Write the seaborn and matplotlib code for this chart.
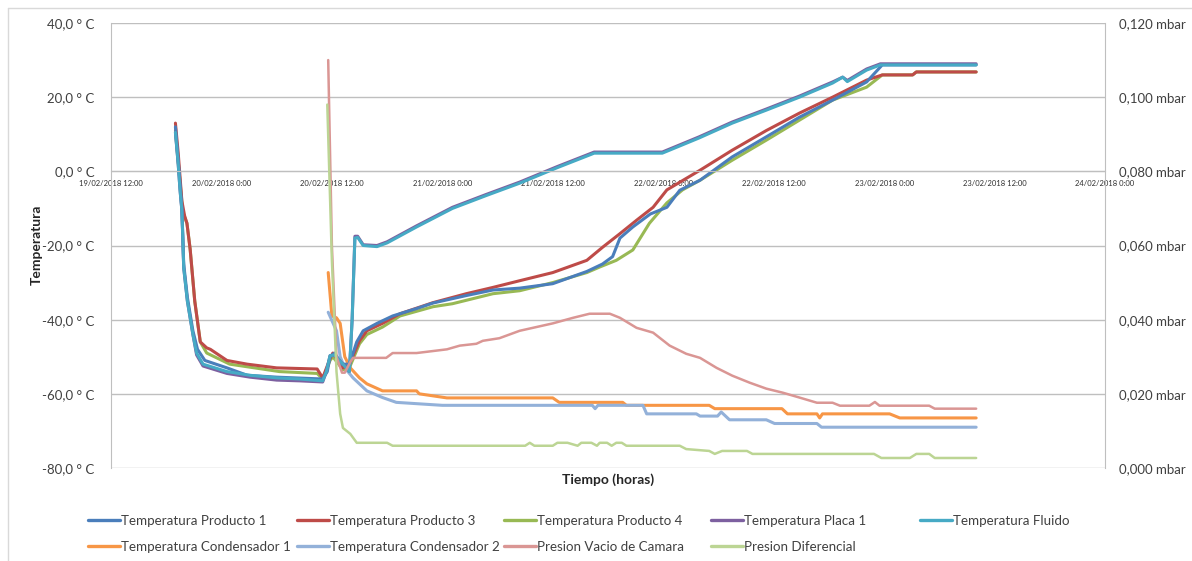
import pandas as pd
import matplotlib
matplotlib.use("Agg")
import matplotlib.pyplot as plt
import matplotlib.dates as mdates
from matplotlib.lines import Line2D
from matplotlib.ticker import FuncFormatter, MultipleLocator
import seaborn as sns

START = pd.Timestamp("2018-02-19 12:00")
END = pd.Timestamp("2018-02-24 00:00")

# horas desde 19/02/2018 12:00 -> temperatura (°C)
p1_h = [7.0, 7.4, 7.7, 7.9, 8.3, 8.9, 9.4, 10.2, 12.6, 14.8, 18.0, 23.0, 23.5, 23.8, 24.3, 25.0, 25.9, 26.7, 27.4, 28.9,
        30.6, 33.2, 35.0, 38.6, 41.5, 44.4, 48.0, 51.7, 53.4, 54.5, 55.3, 56.7, 58.6, 60.4, 61.8, 64.0, 67.5, 71.2, 74.8, 78.4,
        82.1, 83.8, 94.0]
p1_t = [12.0, 0.0, -10.0, -25.0, -34.0, -43.0, -48.0, -51.0, -53.0, -55.0, -55.5, -56.0, -54.0, -50.0, -49.0, -52.0, -52.0, -46.0, -43.0, -41.0,
        -39.0, -37.0, -35.5, -33.5, -32.0, -31.5, -30.3, -27.0, -25.0, -23.0, -18.0, -15.0, -11.5, -9.7, -5.1, -2.4, 3.9, 9.3, 14.6, 19.2,
        24.1, 28.7, 28.7]

p3_h = [7.0, 7.3, 7.7, 8.0, 8.25, 8.6, 9.1, 9.7, 10.4, 10.8, 12.6, 14.8, 18.0, 22.4, 23.0, 23.8, 24.1, 25.2, 25.9, 27.0,
        27.8, 29.5, 31.4, 35.0, 38.6, 41.5, 44.4, 48.0, 51.7, 53.4, 55.3, 57.1, 58.9, 60.4, 64.0, 67.5, 71.2, 74.8, 78.4, 82.1,
        83.8, 87.1, 87.5, 94.0]
p3_t = [13.0, 5.0, -8.0, -12.0, -14.0, -21.0, -35.0, -46.0, -47.6, -48.0, -51.0, -52.0, -53.0, -53.3, -55.7, -50.5, -49.0, -53.0, -52.0, -45.7,
        -43.0, -41.0, -38.4, -35.4, -33.0, -31.3, -29.5, -27.3, -24.0, -20.5, -16.8, -13.2, -9.7, -5.0, 0.3, 5.7, 11.0, 15.7, 20.0, 24.6,
        26.0, 26.0, 26.8, 26.8]

p4_h = [7.0, 7.4, 7.8, 8.25, 8.6, 9.1, 9.7, 10.4, 12.9, 18.3, 22.4, 23.0, 23.8, 24.1, 25.2, 25.9, 27.0, 27.8, 29.5, 31.4,
        35.0, 37.1, 41.5, 44.4, 48.0, 51.7, 53.1, 54.9, 56.7, 58.5, 60.4, 62.1, 64.0, 67.5, 71.2, 74.8, 78.4, 82.1, 83.8, 87.1,
        87.5, 94.0]
p4_t = [11.0, 0.0, -11.0, -14.0, -21.0, -35.0, -46.0, -49.0, -52.0, -54.0, -54.5, -56.0, -51.0, -50.0, -53.5, -53.0, -46.5, -44.0, -42.0, -39.0,
        -36.5, -35.7, -33.0, -32.2, -30.0, -27.3, -25.8, -24.0, -21.2, -14.0, -8.5, -5.0, -2.4, 3.0, 8.4, 13.8, 19.2, 22.7, 26.0, 26.0,
        26.8, 26.8]

fl_h = [7.0, 7.3, 7.5, 7.7, 7.8, 7.9, 8.3, 8.9, 9.3, 10.0, 12.6, 15.1, 18.0, 20.5, 23.0, 23.4, 23.8, 24.3, 25.2, 25.9,
        26.2, 26.5, 26.8, 27.4, 28.9, 30.0, 33.2, 37.1, 40.8, 44.4, 48.5, 52.5, 59.9, 63.9, 67.5, 71.2, 74.8, 78.4, 79.5, 80.0,
        82.1, 83.6, 94.0]
fl_t = [10.5, 2.0, -5.0, -10.5, -18.0, -26.0, -35.0, -44.0, -49.0, -52.0, -54.0, -55.0, -55.7, -56.0, -56.5, -54.0, -49.7, -49.5, -52.0, -54.0,
        -40.0, -18.0, -17.8, -20.0, -20.3, -19.3, -15.0, -10.0, -6.5, -3.2, 1.0, 4.9, 4.9, 9.0, 13.0, 16.5, 20.0, 23.8, 25.4, 24.2,
        27.3, 28.7, 28.7]

pl_h = fl_h
pl_t = [10.5, 2.0, -5.0, -10.5, -18.0, -26.0, -35.0, -44.0, -49.5, -52.5, -54.5, -55.5, -56.3, -56.5, -56.8, -54.0, -49.7, -49.5, -52.0, -54.0,
        -40.0, -17.5, -17.5, -19.8, -20.0, -19.0, -14.7, -9.7, -6.2, -2.9, 1.3, 5.2, 5.2, 9.3, 13.3, 16.8, 20.3, 24.1, 25.4, 24.5,
        27.6, 29.0, 29.0]

c1_h = [23.6, 24.0, 24.5, 24.9, 25.4, 26.0, 27.0, 27.8, 29.5, 33.2, 33.5, 36.5, 48.0, 48.7, 55.6, 56.0, 65.0, 65.6, 72.9, 73.5,
        76.7, 77.0, 77.3, 84.6, 85.7, 94.0]
c1_t = [-27.3, -39.0, -39.5, -41.0, -50.0, -53.0, -55.7, -57.3, -59.2, -59.2, -60.0, -61.1, -61.1, -62.3, -62.3, -63.1, -63.1, -64.0, -64.0, -65.4,
        -65.4, -66.5, -65.4, -65.4, -66.5, -66.5]

c2_h = [23.6, 24.5, 24.9, 25.4, 26.3, 27.8, 29.5, 31.0, 36.0, 52.3, 52.6, 52.9, 57.8, 58.2, 63.6, 64.0, 65.9, 66.3, 67.2, 71.2,
        72.1, 76.7, 77.2, 94.0]
c2_t = [-38.0, -43.0, -50.0, -53.0, -55.7, -59.2, -61.0, -62.3, -63.1, -63.1, -64.0, -63.1, -63.1, -65.4, -65.4, -66.0, -66.0, -64.9, -67.0, -67.0,
        -68.0, -68.0, -69.0, -69.0]

# presiones (mbar), eje derecho
pv_h = [23.6, 24.0, 24.5, 25.1, 25.4, 26.0, 26.3, 29.9, 30.6, 33.2, 36.5, 37.9, 39.7, 40.4, 42.2, 44.4, 48.0, 50.2, 52.0, 54.2,
        55.3, 57.1, 58.9, 60.7, 62.5, 64.0, 65.8, 67.5, 69.4, 71.2, 73.0, 74.8, 76.7, 78.4, 79.2, 82.4, 83.0, 83.5, 88.9, 89.5,
        94.0]
pv_p = [0.110, 0.060, 0.030, 0.0257, 0.0257, 0.0286, 0.0297, 0.0297, 0.031, 0.031, 0.032, 0.033, 0.0335, 0.0343, 0.035, 0.037, 0.039, 0.0405, 0.0416, 0.0416,
        0.0405, 0.0378, 0.0365, 0.033, 0.0308, 0.0297, 0.027, 0.0249, 0.023, 0.0214, 0.0203, 0.019, 0.0176, 0.0176, 0.0168, 0.0168, 0.0178, 0.0168, 0.0168, 0.016,
        0.016]

pd_h = [23.5, 24.0, 24.5, 24.9, 25.2, 26.0, 26.7, 30.0, 30.6, 45.0, 45.5, 46.0, 48.0, 48.5, 49.6, 50.7, 51.1, 52.2, 52.8, 53.1,
        53.9, 54.4, 54.9, 55.5, 56.0, 61.8, 62.5, 65.0, 65.6, 66.4, 69.1, 69.7, 82.9, 83.7, 86.8, 87.5, 88.9, 89.5, 94.0]
pd_p = [0.098, 0.056, 0.026, 0.0146, 0.0108, 0.0092, 0.0068, 0.0068, 0.006, 0.006, 0.0068, 0.006, 0.006, 0.0068, 0.0068, 0.006, 0.0068, 0.0068, 0.006, 0.0068,
        0.0068, 0.006, 0.0068, 0.0068, 0.006, 0.006, 0.0051, 0.0046, 0.0038, 0.0046, 0.0046, 0.0038, 0.0038, 0.0027, 0.0027, 0.0038, 0.0038, 0.0027, 0.0027]

temp_series = [
    ("Temperatura Condensador 1", c1_h, c1_t, "#F79646"),
    ("Temperatura Condensador 2", c2_h, c2_t, "#93B1D9"),
    ("Temperatura Producto 4", p4_h, p4_t, "#98B954"),
    ("Temperatura Producto 3", p3_h, p3_t, "#BE4B48"),
    ("Temperatura Producto 1", p1_h, p1_t, "#4A7EBB"),
    ("Temperatura Placa 1", pl_h, pl_t, "#7D60A0"),
    ("Temperatura Fluido", fl_h, fl_t, "#46AAC5"),
]
press_series = [
    ("Presion Vacio de Camara", pv_h, pv_p, "#DA9694"),
    ("Presion Diferencial", pd_h, pd_p, "#BCD594"),
]

# columnas de la leyenda (como en Excel: columnas de igual ancho)
legend_cols = [
    ["Temperatura Producto 1", "Temperatura Condensador 1"],
    ["Temperatura Producto 3", "Temperatura Condensador 2"],
    ["Temperatura Producto 4", "Presion Vacio de Camara"],
    ["Temperatura Placa 1", "Presion Diferencial"],
    ["Temperatura Fluido"],
]


def to_df(hours, vals):
    return pd.DataFrame({"t": START + pd.to_timedelta(hours, unit="h"), "v": vals})


sns.set_style("white")
plt.rcParams["font.family"] = ["Lato", "DejaVu Sans"]

W, H = 1192, 561
fig = plt.figure(figsize=(W / 100, H / 100), dpi=100)
ax = fig.add_axes([111 / W, 1 - 468 / H, (1105 - 111) / W, (468 - 23) / H])
ax2 = ax.twinx()

colors = {}
for name, h, v, c in temp_series:
    sns.lineplot(data=to_df(h, v), x="t", y="v", ax=ax, color=c, linewidth=2.2, sort=False)
    colors[name] = c
for name, h, v, c in press_series:
    sns.lineplot(data=to_df(h, v), x="t", y="v", ax=ax2, color=c, linewidth=1.8, sort=False)
    colors[name] = c

# eje izquierdo
ax.set_xlim(START, END)
ax.set_ylim(-80, 40)
ax.yaxis.set_major_locator(MultipleLocator(20))
ax.yaxis.set_major_formatter(FuncFormatter(lambda y, p: f"{y:.1f}".replace(".", ",") + " ° C"))
ax.grid(axis="y", color="#BFBFBF", linewidth=1.0)
ax.grid(axis="x", visible=False)
ax.set_xlabel("")
ax.set_ylabel("")
ax.tick_params(axis="y", labelsize=9.5, labelcolor="#404040", length=0, pad=12)

ax.xaxis.set_major_locator(mdates.HourLocator(byhour=[0, 12]))


def fmt_date(x, pos):
    d = mdates.num2date(x)
    return f"{d:%d/%m/%Y} {d.hour}:{d:%M}"


ax.xaxis.set_major_formatter(FuncFormatter(fmt_date))
ax.tick_params(axis="x", labelsize=5.5, labelcolor="#303030", direction="in",
               length=4, color="#BFBFBF", pad=6)
ax.spines["bottom"].set_position(("data", 0))
ax.spines["bottom"].set_color("#BFBFBF")
ax.spines["left"].set_color("#BFBFBF")
ax.spines["top"].set_visible(False)
ax.spines["right"].set_visible(False)

# eje derecho
ax2.set_ylim(0, 0.12)
ax2.yaxis.set_major_locator(MultipleLocator(0.02))
ax2.yaxis.set_major_formatter(FuncFormatter(lambda y, p: f"{y:.3f}".replace(".", ",") + " mbar"))
ax2.tick_params(axis="y", labelsize=9.5, labelcolor="#404040", length=0, pad=10)
ax2.set_ylabel("")
ax2.grid(False)
for s in ["top", "bottom", "left"]:
    ax2.spines[s].set_visible(False)
ax2.spines["right"].set_color("#BFBFBF")

fig.text(37 / W, 1 - 245 / H, "Temperatura", rotation=90, ha="center", va="center",
         fontsize=10, fontweight="bold", color="#262626")
fig.text(608 / W, 1 - 480 / H, "Tiempo (horas)", ha="center", va="center",
         fontsize=10, fontweight="bold", color="#262626")

col_x = [88, 297, 504, 711, 920]
for x0, names in zip(col_x, legend_cols):
    handles = [Line2D([0], [0], color=colors[n], linewidth=2.4) for n in names]
    leg = fig.legend(handles, names, loc="upper left", bbox_to_anchor=(x0 / W, 1 - 515 / H),
                     frameon=False, fontsize=9.6, handlelength=2.4, handletextpad=0.1,
                     borderpad=0, borderaxespad=0, labelspacing=1.05)
    for t in leg.get_texts():
        t.set_color("#404040")

# borde del gráfico
fig.add_artist(Line2D([8 / W, 8 / W], [0, 1 - 8 / H], color="#D9D9D9", linewidth=1,
                      transform=fig.transFigure))
fig.add_artist(Line2D([8 / W, 1], [1 - 8 / H, 1 - 8 / H], color="#D9D9D9", linewidth=1,
                      transform=fig.transFigure))

fig.savefig("out.png", dpi=100)
